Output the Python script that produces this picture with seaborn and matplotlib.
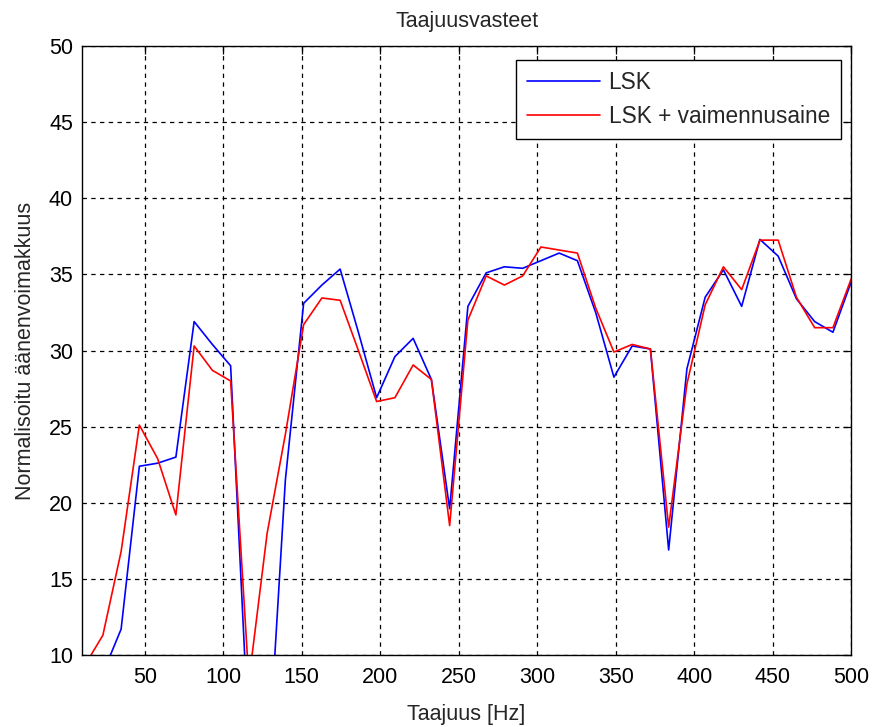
import numpy as np
import pandas as pd
import matplotlib
matplotlib.use("Agg")
import matplotlib.pyplot as plt
import seaborn as sns

# Frequencies (Hz)
freq = [11.63, 23.26, 34.88, 46.51, 58.14, 69.77, 81.40, 93.02, 104.65, 116.28,
        127.91, 139.53, 151.16, 162.79, 174.42, 186.05, 197.67, 209.30, 220.93, 232.56,
        244.19, 255.81, 267.44, 279.07, 290.70, 302.33, 313.95, 325.58, 337.21, 348.84,
        360.47, 372.09, 383.72, 395.35, 406.98, 418.60, 430.23, 441.86, 453.49, 465.12,
        476.74, 488.37, 500.00]

lsk = [7.0, 8.8, 11.7, 22.4, 22.6, 23.0, 31.9, 30.4, 29.0, 4.3,
       1.6, 21.5, 33.1, 34.3, 35.35, 31.2, 26.9, 29.6, 30.8, 28.1,
       19.6, 32.9, 35.1, 35.5, 35.4, 35.9, 36.4, 35.9, 32.5, 28.25,
       30.3, 30.1, 16.9, 28.8, 33.5, 35.3, 32.9, 37.3, 36.2, 33.4,
       31.9, 31.2, 34.5]

lsk_damp = [9.3, 11.3, 16.8, 25.1, 22.9, 19.2, 30.3, 28.7, 28.0, 8.3,
            18.0, 24.5, 31.7, 33.45, 33.3, 30.0, 26.65, 26.9, 29.05, 28.1,
            18.5, 32.0, 34.9, 34.3, 34.9, 36.8, 36.6, 36.4, 32.8, 29.9,
            30.4, 30.1, 18.4, 27.8, 33.0, 35.5, 34.0, 37.25, 37.25, 33.5,
            31.5, 31.5, 34.7]

series_names = ["LSK", "LSK + vaimennusaine"]
x_ticks = [50, 100, 150, 200, 250, 300, 350, 400, 450, 500]
y_ticks = [10, 15, 20, 25, 30, 35, 40, 45, 50]

df = pd.DataFrame({
    "Taajuus": freq * 2,
    "Arvo": lsk + lsk_damp,
    "Sarja": [series_names[0]] * len(freq) + [series_names[1]] * len(freq),
})

sns.set_style("white")
plt.rcParams["font.family"] = ["Liberation Sans", "DejaVu Sans"]
FS = 15.5
plt.rcParams["font.size"] = FS

fig = plt.figure(figsize=(8.73, 7.27), dpi=100)
ax = fig.add_axes([0.094, 0.099, 0.881, 0.8377])

sns.lineplot(data=df, x="Taajuus", y="Arvo", hue="Sarja",
             palette={series_names[0]: "#0000FF", series_names[1]: "#FF0000"},
             linewidth=1.2, ax=ax, sort=False, estimator=None)

ax.set_xlim(10, 500)
ax.set_ylim(10, 50)
ax.set_xticks(x_ticks)
ax.set_yticks(y_ticks)
ax.grid(True, color="black", linestyle=(0, (3.5, 3.5)), linewidth=0.9)
ax.set_axisbelow(True)
for s in ax.spines.values():
    s.set_color("black")
    s.set_linewidth(1.0)
    s.set_visible(True)
ax.tick_params(direction="in", length=6, width=0.9, top=True, right=True,
               labelsize=FS, colors="black")
ax.tick_params(axis="x", pad=8.5)
ax.tick_params(axis="y", pad=6.5)

ax.set_title("Taajuusvasteet", fontsize=FS, pad=14)
ax.set_xlabel("Taajuus [Hz]", fontsize=FS, labelpad=12)
ax.set_ylabel("Normalisoitu äänenvoimakkuus", fontsize=FS, labelpad=9)

leg = ax.legend(loc="upper right", bbox_to_anchor=(0.987, 0.977), frameon=True,
                fancybox=False, shadow=False, handlelength=3.2, fontsize=16.3,
                borderpad=0.5, labelspacing=0.45, handletextpad=0.4,
                borderaxespad=0.0)
leg.get_frame().set_edgecolor("black")
leg.get_frame().set_linewidth(1.0)
leg.get_frame().set_alpha(1.0)
leg.set_title(None)

fig.savefig("out.png", dpi=100, facecolor="white")
